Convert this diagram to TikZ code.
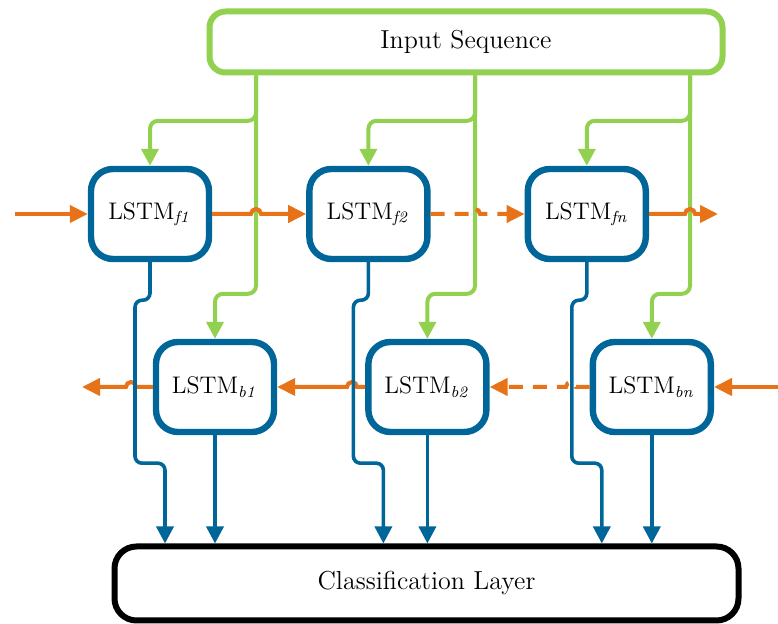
\documentclass[tikz,border=0pt]{standalone}
\usetikzlibrary{arrows.meta}
\usetikzlibrary{positioning, calc}
\definecolor{lstmblue}{RGB}{0,101,153}
\definecolor{seqgreen}{RGB}{146,208,80}
\definecolor{flow}{RGB}{232,114,24}
\tikzstyle{lstm} = [rectangle, rounded corners=11pt, line width=3.2pt, draw=lstmblue, fill=white, minimum width=59pt, minimum height=45pt, inner sep=0pt, font=\fontsize{12}{14}\selectfont]
\tikzstyle{layer} = [rectangle, line width=3pt, fill=white, inner sep=0pt, font=\fontsize{13}{15}\selectfont]
\tikzstyle{feed} = [line width=2pt, draw=seqgreen, rounded corners=4pt, -{Triangle[length=8.5pt,width=8.5pt]}]
\tikzstyle{recur} = [line width=2pt, draw=flow, -{Triangle[length=9pt,width=8.5pt]}]
\tikzstyle{recurdash} = [recur, dash pattern=on 7pt off 5pt]
\tikzstyle{emit} = [line width=1.8pt, draw=lstmblue, rounded corners=3.5pt, -{Triangle[length=8.5pt,width=8.5pt]}]

\begin{document}
\begin{tikzpicture}[x=0.5pt, y=-0.5pt]
\useasboundingbox (0,0) rectangle (778,624);

\node (inp) [layer, draw=seqgreen, rounded corners=8pt, minimum width=256.5pt, minimum height=30.5pt] at (466,42) {Input Sequence};
\node (cls) [layer, draw=black, rounded corners=11pt, minimum width=312pt, minimum height=37pt] at (426.5,583.5) {Classification Layer};

\node (f1) [lstm] at (150,214) {LSTM$_{\mathit{f1}}$};
\node (f2) [lstm, right=47pt of f1] {LSTM$_{\mathit{f2}}$};
\node (fn) [lstm, right=47pt of f2] {LSTM$_{\mathit{fn}}$};
\node (b1) [lstm] at (215,387) {LSTM$_{\mathit{b1}}$};
\node (b2) [lstm, right=44pt of b1] {LSTM$_{\mathit{b2}}$};
\node (bn) [lstm, right=50pt of b2] {LSTM$_{\mathit{bn}}$};

% green taps of the input sequence
\coordinate (g1) at (256,0);
\coordinate (g2) at (475,0);
\coordinate (g3) at (690,0);
\draw [feed] (inp.south -| g1) |- ($(f1.north)+(0,-45)$) -- (f1.north);
\draw [feed] (inp.south -| g1) |- ($(b1.north)+(0,-45)$) -- (b1.north);
\draw [feed] (inp.south -| g2) |- ($(f2.north)+(0,-45)$) -- (f2.north);
\draw [feed] (inp.south -| g2) |- ($(b2.north)+(0,-45)$) -- (b2.north);
\draw [feed] (inp.south -| g3) |- ($(fn.north)+(0,-45)$) -- (fn.north);
\draw [feed] (inp.south -| g3) |- ($(bn.north)+(0,-45)$) -- (bn.north);

% forward chain
\coordinate (fin) at (15,214);
\coordinate (fout) at (718,214);
\draw [recur] (fin) -- (f1.west);
\draw [recur] (f1.east) -- ($(g1 |- f1.east)+(-5,0)$) arc[start angle=180, end angle=0, radius=2.5pt] -- (f2.west);
\draw [recurdash] (f2.east) -- ($(g2 |- f2.east)+(-5,0)$) arc[start angle=180, end angle=0, radius=2.5pt] -- (fn.west);
\draw [recur] (fn.east) -- ($(g3 |- fn.east)+(-5,0)$) arc[start angle=180, end angle=0, radius=2.5pt] -- (fout);

% backward chain
\coordinate (bin) at (778,387);
\coordinate (bout) at (82,387);
\coordinate (h1) at (131,0);
\coordinate (h2) at (352,0);
\coordinate (h3) at (571,0);
\draw [recur] (bin) -- (bn.east);
\draw [recurdash] (bn.west) -- ($(h3 |- bn.west)+(5,0)$) arc[start angle=0, end angle=180, radius=2.5pt] -- (b2.east);
\draw [recur] (b2.west) -- ($(h2 |- b2.west)+(5,0)$) arc[start angle=0, end angle=180, radius=2.5pt] -- (b1.east);
\draw [recur] (b1.west) -- ($(h1 |- b1.west)+(5,0)$) arc[start angle=0, end angle=180, radius=2.5pt] -- (bout);

% outputs to the classifier
\draw [emit] (f1.south) -- ++(0,38) -- ++(-15,0) -- ++(0,163) -- ++(30,0) -- ($(f1.south |- cls.north)+(15,0)$);
\draw [emit] (f2.south) -- ++(0,38) -- ++(-15,0) -- ++(0,163) -- ++(30,0) -- ($(f2.south |- cls.north)+(15,0)$);
\draw [emit] (fn.south) -- ++(0,38) -- ++(-15,0) -- ++(0,163) -- ++(30,0) -- ($(fn.south |- cls.north)+(15,0)$);
\draw [emit] (b1.south) -- (b1.south |- cls.north);
\draw [emit] (b2.south) -- (b2.south |- cls.north);
\draw [emit] (bn.south) -- (bn.south |- cls.north);

\end{tikzpicture}
\end{document}
